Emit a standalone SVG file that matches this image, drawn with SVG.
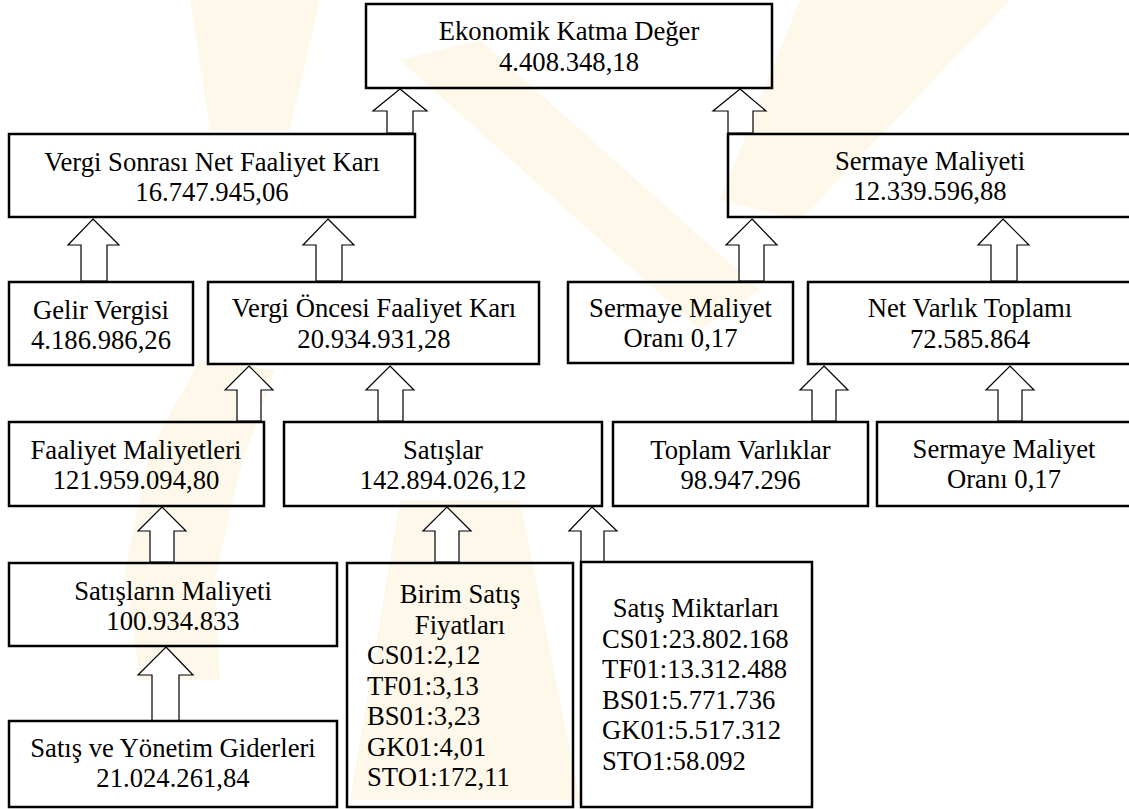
<svg xmlns="http://www.w3.org/2000/svg" width="1129" height="809" viewBox="0 0 1129 809">
<style>
.box{fill:none;stroke:#000;stroke-width:2.5}
.arr{fill:#fff;stroke:#000;stroke-width:1.2;stroke-linejoin:miter}
text{font-family:"Liberation Serif","Times New Roman",serif;font-size:26.67px;fill:#000}
.c{text-anchor:middle}
.wm{fill:#efd06a;opacity:0.15}
</style>
<rect width="1129" height="809" fill="#fff"/>
<g id="watermark">
<polygon class="wm" points="400,60 480,40 760,290 700,330"/>
<polygon class="wm" points="190,0 320,0 290,130 210,130"/>
<polygon class="wm" points="800,0 1010,0 800,220 720,200"/>
<path class="wm" d="M200,360 L275,370 L240,470 L215,580 L220,680 L140,680 L125,570 L150,450 Z"/>
<polygon class="wm" points="400,500 520,500 580,800 350,800"/>
</g>
<g id="connectors">
<polygon class="arr" points="400,89 427,111 413,111 413,133 387,133 387,111 373,111"/>
<polygon class="arr" points="740,89 766,111 753,111 753,133 728,133 728,111 713,111"/>
<polygon class="arr" points="93,219 119,245 107,245 107,281 81,281 81,245 68,245"/>
<polygon class="arr" points="328,219 354,245 342,245 342,281 316,281 316,245 303,245"/>
<polygon class="arr" points="752,219 777,245 764,245 764,281 739,281 739,245 726,245"/>
<polygon class="arr" points="1003,219 1029,245 1017,245 1017,281 991,281 991,245 978,245"/>
<polygon class="arr" points="249,366 273,390 261,390 261,421 237,421 237,390 225,390"/>
<polygon class="arr" points="390,366 414,390 403,390 403,421 378,421 378,390 366,390"/>
<polygon class="arr" points="824,366 848,390 836,390 836,421 812,421 812,390 800,390"/>
<polygon class="arr" points="1010,366 1034,390 1022,390 1022,421 998,421 998,390 986,390"/>
<polygon class="arr" points="162,507 186,531 174,531 174,562 150,562 150,531 138,531"/>
<polygon class="arr" points="447,507 471,531 459,531 459,562 435,562 435,531 423,531"/>
<polygon class="arr" points="592,507 617,531 604,531 604,562 581,562 581,531 569,531"/>
<polygon class="arr" points="166,647 193,675 179,675 179,721 152,721 152,675 138,675"/>
</g>
<g font-family="Liberation Serif, serif">
<g id="eva">
<rect class="box" x="366" y="4" width="406" height="84"/>
<text class="c" x="569" y="40">Ekonomik Katma Değer</text>
<text class="c" x="569" y="71">4.408.348,18</text>
</g>
<g id="nopat">
<rect class="box" x="9" y="134" width="406" height="83"/>
<text class="c" x="212" y="170.5">Vergi Sonrası Net Faaliyet Karı</text>
<text class="c" x="212" y="200.5">16.747.945,06</text>
</g>
<g id="sermaye-maliyeti">
<rect class="box" x="728" y="134" width="406" height="83"/>
<text class="c" x="930" y="170">Sermaye Maliyeti</text>
<text class="c" x="930" y="200">12.339.596,88</text>
</g>
<g id="gelir-vergisi">
<rect class="box" x="9" y="282" width="184" height="83"/>
<text class="c" x="101" y="318.5">Gelir Vergisi</text>
<text class="c" x="101" y="348.5">4.186.986,26</text>
</g>
<g id="vergi-oncesi">
<rect class="box" x="208" y="282" width="331" height="82"/>
<text class="c" x="374" y="317">Vergi Öncesi Faaliyet Karı</text>
<text class="c" x="374" y="348">20.934.931,28</text>
</g>
<g id="sermaye-orani-1">
<rect class="box" x="568" y="282" width="225" height="81"/>
<text class="c" x="680.5" y="317">Sermaye Maliyet</text>
<text class="c" x="680.5" y="347">Oranı 0,17</text>
</g>
<g id="net-varlik">
<rect class="box" x="808" y="282" width="326" height="82"/>
<text class="c" x="970" y="317">Net Varlık Toplamı</text>
<text class="c" x="970" y="348">72.585.864</text>
</g>
<g id="faaliyet-maliyetleri">
<rect class="box" x="9" y="422" width="255" height="84"/>
<text class="c" x="136" y="458.5">Faaliyet Maliyetleri</text>
<text class="c" x="136" y="488.5">121.959.094,80</text>
</g>
<g id="satislar">
<rect class="box" x="284" y="422" width="318" height="84"/>
<text class="c" x="443" y="458.5">Satışlar</text>
<text class="c" x="443" y="488.5">142.894.026,12</text>
</g>
<g id="toplam-varliklar">
<rect class="box" x="613" y="422" width="255" height="84"/>
<text class="c" x="740.5" y="458.5">Toplam Varlıklar</text>
<text class="c" x="740.5" y="488.5">98.947.296</text>
</g>
<g id="sermaye-orani-2">
<rect class="box" x="877" y="422" width="257" height="84"/>
<text class="c" x="1004" y="457.5">Sermaye Maliyet</text>
<text class="c" x="1004" y="488">Oranı 0,17</text>
</g>
<g id="satislarin-maliyeti">
<rect class="box" x="9" y="563" width="328" height="83"/>
<text class="c" x="173" y="599.5">Satışların Maliyeti</text>
<text class="c" x="173" y="629.5">100.934.833</text>
</g>
<g id="satis-yonetim">
<rect class="box" x="9" y="721" width="328" height="86"/>
<text class="c" x="173" y="757">Satış ve Yönetim Giderleri</text>
<text class="c" x="173" y="787">21.024.261,84</text>
</g>
<g id="birim-satis">
<rect class="box" x="347" y="563" width="226" height="244"/>
<text class="c" x="460" y="603">Birim Satış</text>
<text class="c" x="460" y="633.5">Fiyatları</text>
<text x="367" y="664">CS01:2,12</text>
<text x="367" y="694.5">TF01:3,13</text>
<text x="367" y="725">BS01:3,23</text>
<text x="367" y="755.5">GK01:4,01</text>
<text x="367" y="786">STO1:172,11</text>
</g>
<g id="satis-miktarlari">
<rect class="box" x="581" y="562" width="231" height="245"/>
<text class="c" x="696" y="617">Satış Miktarları</text>
<text x="602" y="647.5">CS01:23.802.168</text>
<text x="602" y="678">TF01:13.312.488</text>
<text x="602" y="708.5">BS01:5.771.736</text>
<text x="602" y="739">GK01:5.517.312</text>
<text x="602" y="769.5">STO1:58.092</text>
</g>
</g>
</svg>
